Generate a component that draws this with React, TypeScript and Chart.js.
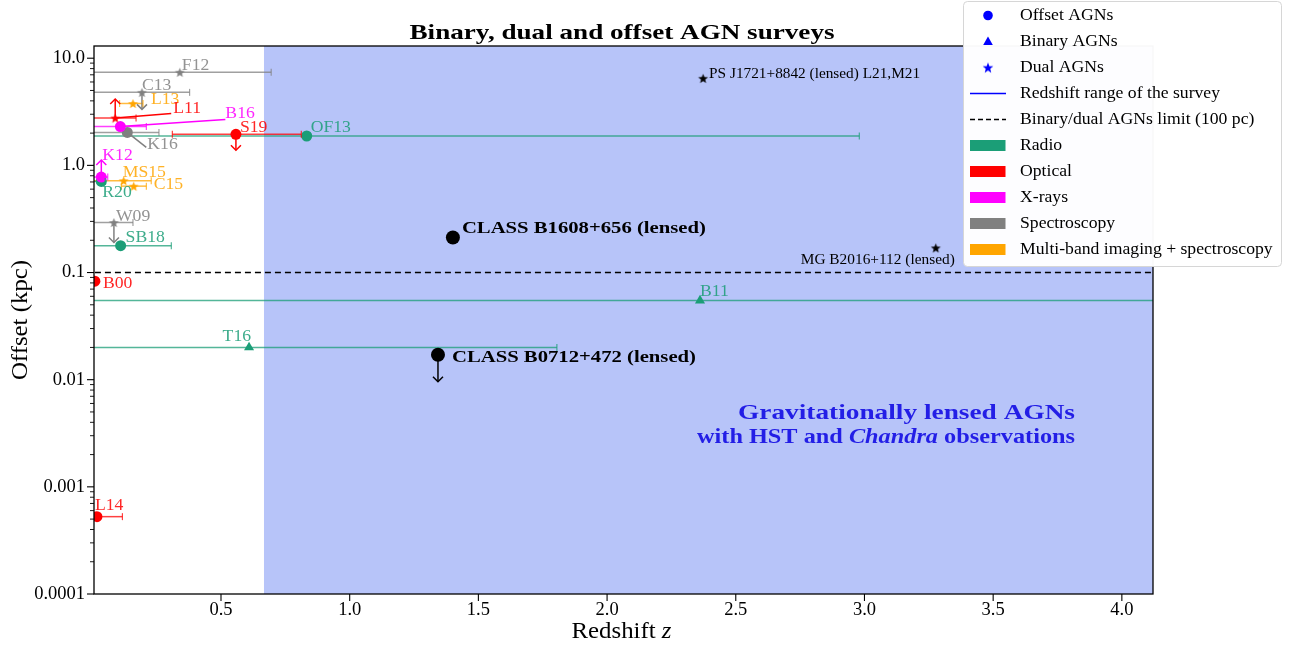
import React, { useEffect, useRef } from 'react';
import { Chart, registerables } from 'chart.js';

Chart.register(...registerables);

// ===================== DATA =====================
const surveyNames = ['F12', 'C13', 'L13', 'L11', 'B16', 'K16', 'S19', 'OF13', 'K12', 'R20', 'MS15', 'C15', 'W09', 'SB18', 'B00', 'B11', 'T16', 'L14'];
const surveyKind = ['dual', 'dual', 'dual', 'dual', 'offset', 'offset', 'offset', 'offset', 'offset', 'offset', 'dual', 'dual', 'dual', 'offset', 'offset', 'binary', 'binary', 'offset'];
const surveyBand = ['spec', 'spec', 'multi', 'optical', 'xray', 'spec', 'optical', 'radio', 'xray', 'radio', 'multi', 'multi', 'spec', 'radio', 'optical', 'radio', 'radio', 'optical'];
const surveyRedshift = [0.34, 0.193, 0.158, 0.089, 0.109, 0.136, 0.558, 0.833, 0.035, 0.035, 0.122, 0.161, 0.084, 0.11, 0.01, 2.361, 0.609, 0.018];
const surveyOffsetKpc = [7.4, 4.8, 3.78, 2.77, 2.3, 2.03, 1.95, 1.88, 0.778, 0.708, 0.72, 0.64, 0.293, 0.178, 0.083, 0.0547, 0.02, 0.000527];
const surveyZMin = [0, 0, 0.106, 0, 0, 0, 0.311, 0, 0, 0, 0, 0.113, 0, 0, null, 0, 0, 0];
const surveyZMax = [0.695, 0.378, 0.197, 0.17, 0.21, 0.259, 0.812, 2.98, 0.06, 0.05, 0.229, 0.21, 0.158, 0.307, null, 5, 1.805, 0.117];
const surveyLimit = ['', 'upper', '', 'lower', '', '', 'upper', '', 'lower', '', '', '', 'upper', '', '', '', '', ''];

const lensedNames = ['CLASS B1608+656 (lensed)', 'CLASS B0712+472 (lensed)', 'PS J1721+8842 (lensed) L21,M21', 'MG B2016+112 (lensed)'];
const lensedKind = ['offset', 'offset', 'dual', 'dual'];
const lensedRedshift = [1.401, 1.343, 2.373, 3.277];
const lensedOffsetKpc = [0.212, 0.0171, 6.5, 0.17];
const lensedLimit = ['', 'upper', '', ''];

const lensedRegionStart = 0.667;
const binaryDualLimitKpc = 0.1;

const xTickValues = [0.5, 1.0, 1.5, 2.0, 2.5, 3.0, 3.5, 4.0];
const xTickLabels = ['0.5', '1.0', '1.5', '2.0', '2.5', '3.0', '3.5', '4.0'];
const yTickValues = [10, 1, 0.1, 0.01, 0.001, 0.0001];
const yTickLabels = ['10.0', '1.0', '0.1', '0.01', '0.001', '0.0001'];

const legendLabels = ['Offset AGNs', 'Binary AGNs', 'Dual AGNs', 'Redshift range of the survey', 'Binary/dual AGNs limit (100 pc)', 'Radio', 'Optical', 'X-rays', 'Spectroscopy', 'Multi-band imaging + spectroscopy'];
const legendBands = ['radio', 'optical', 'xray', 'spec', 'multi'];

const titleText = 'Binary, dual and offset AGN surveys';
const annotationLine1 = 'Gravitationally lensed AGNs';
const annotationLine2 = [{ t: 'with HST and ' }, { t: 'Chandra', italic: true }, { t: ' observations' }];

// ===================== STYLE / LAYOUT =====================
const FONT = "'Liberation Serif', 'Times New Roman', Times, serif";
const SX = 1.07;
const X_MIN = 0.0066;
const X_MAX = 4.121;
const Y_MIN = 0.0001;
const Y_MAX = 13;
const REGION_COLOR = 'rgb(183,196,249)';
const ANNOT_COLOR = 'rgb(35,30,230)';
const bandColor: Record<string, string> = {
  radio: '#1b9e77',
  optical: '#ff0000',
  xray: '#ff00ff',
  spec: '#808080',
  multi: '#ffa500',
};

// label anchor offsets (px, from marker centre): dx, dy, align
const labelPlacement: Record<string, [number, number, string]> = {
  F12: [2, -7, 'left'],
  C13: [0, -7, 'left'],
  L13: [18, -4, 'left'],
  L11: [58, -9, 'left'],
  B16: [105, -13, 'left'],
  K16: [20, 12, 'left'],
  S19: [4, -7, 'left'],
  OF13: [4, -8, 'left'],
  K12: [1, -21, 'left'],
  R20: [1, 11, 'left'],
  MS15: [-1, -8, 'left'],
  C15: [20, -1, 'left'],
  W09: [2, -6, 'left'],
  SB18: [5, -8, 'left'],
  B00: [8, 2, 'left'],
  B11: [0, -9, 'left'],
  T16: [2, -11, 'right'],
  L14: [-2, -11, 'left'],
};
const leaderEnd: Record<string, [number, number]> = {
  L11: [56, -4.5],
  B16: [105, -7],
  K16: [19, 15],
};
const arrowLength: Record<string, number> = {
  C13: 17,
  L11: 19,
  S19: 16,
  K12: 17,
  W09: 20,
  'CLASS B0712+472 (lensed)': 27,
};
const lensedPlacement: [number, number, string, number, boolean, number][] = [
  [9, -9, 'left', 244, true, 17.5],
  [14, 3, 'left', 244, true, 17.5],
  [6, -4.5, 'left', 211, false, 14.5],
  [19, 12.5, 'right', 154, false, 14.5],
];

function rgba(hex: string, a: number) {
  const n = parseInt(hex.slice(1), 16);
  return `rgba(${n >> 16},${(n >> 8) & 255},${n & 255},${a})`;
}

function fontOf(size: number, bold?: boolean, italic?: boolean) {
  return `${italic ? 'italic ' : ''}${bold ? 'bold ' : ''}${size}px ${FONT}`;
}

function drawText(ctx: CanvasRenderingContext2D, content: any, x: number, y: number, o: any) {
  const segs = typeof content === 'string' ? [{ t: content }] : content;
  ctx.save();
  let W = 0;
  const ws: number[] = [];
  for (const s of segs) {
    ctx.font = fontOf(o.size, s.bold ?? o.bold, s.italic ?? o.italic);
    const w = ctx.measureText(s.t).width;
    ws.push(w);
    W += w;
  }
  const sx = o.width ? o.width / W : (o.sx ?? SX);
  ctx.translate(x, y);
  if (o.rotate) ctx.rotate(o.rotate);
  ctx.scale(sx, 1);
  let cx = o.align === 'center' ? -W / 2 : o.align === 'right' ? -W : 0;
  ctx.fillStyle = o.color || '#000';
  ctx.textBaseline = 'middle';
  ctx.textAlign = 'left';
  segs.forEach((s: any, i: number) => {
    ctx.font = fontOf(o.size, s.bold ?? o.bold, s.italic ?? o.italic);
    ctx.fillText(s.t, cx, 0);
    cx += ws[i];
  });
  ctx.restore();
}

function makeStar(color: string, outer: number) {
  const inner = outer * 0.42;
  const size = Math.ceil(outer * 2 + 2);
  const c = document.createElement('canvas');
  c.width = size;
  c.height = size;
  const g = c.getContext('2d')!;
  g.fillStyle = color;
  g.beginPath();
  for (let i = 0; i < 10; i++) {
    const r = i % 2 === 0 ? outer : inner;
    const ang = -Math.PI / 2 + (i * Math.PI) / 5;
    const px = size / 2 + r * Math.cos(ang);
    const py = size / 2 + 0.6 + r * Math.sin(ang);
    if (i === 0) g.moveTo(px, py);
    else g.lineTo(px, py);
  }
  g.closePath();
  g.fill();
  return c;
}

function drawArrow(ctx: CanvasRenderingContext2D, x: number, y: number, len: number, dir: number, color: string) {
  const ty = y + dir * len;
  ctx.strokeStyle = color;
  ctx.lineWidth = 1.5;
  ctx.beginPath();
  ctx.moveTo(x, y);
  ctx.lineTo(x, ty);
  ctx.stroke();
  ctx.beginPath();
  ctx.moveTo(x - 5, ty - dir * 5);
  ctx.lineTo(x, ty);
  ctx.lineTo(x + 5, ty - dir * 5);
  ctx.stroke();
}

function line(ctx: CanvasRenderingContext2D, x1: number, y1: number, x2: number, y2: number) {
  ctx.beginPath();
  ctx.moveTo(x1, y1);
  ctx.lineTo(x2, y2);
  ctx.stroke();
}

export default function App() {
  const ref = useRef<HTMLCanvasElement>(null);

  useEffect(() => {
    const canvas = ref.current;
    if (!canvas) return;

    const starCache: Record<string, HTMLCanvasElement> = {};
    const star = (color: string, r: number) => {
      const k = color + r;
      if (!starCache[k]) starCache[k] = makeStar(color, r);
      return starCache[k];
    };
    const styleFor = (kind: string, color: string) =>
      kind === 'offset' ? 'circle' : kind === 'binary' ? 'triangle' : star(color, 5.2);

    const clipLeft = { left: 0, top: false, right: false, bottom: false };
    const datasets: any[] = [];

    surveyNames.forEach((name, i) => {
      const col = bandColor[surveyBand[i]];
      datasets.push({
        label: name,
        data: [{ x: surveyRedshift[i], y: surveyOffsetKpc[i] }],
        pointStyle: styleFor(surveyKind[i], col),
        pointRadius: surveyKind[i] === 'binary' ? 5.8 : 5.5,
        backgroundColor: col,
        borderColor: col,
        borderWidth: 0,
        showLine: false,
        order: 1,
        clip: clipLeft,
      });
    });
    lensedNames.forEach((name, i) => {
      datasets.push({
        label: name,
        data: [{ x: lensedRedshift[i], y: lensedOffsetKpc[i] }],
        pointStyle: styleFor(lensedKind[i], '#000'),
        pointRadius: 7,
        backgroundColor: '#000',
        borderColor: '#000',
        borderWidth: 0,
        showLine: false,
        order: 1,
        clip: clipLeft,
      });
    });
    datasets.push({
      label: 'limit',
      data: [{ x: -1, y: binaryDualLimitKpc }, { x: 10, y: binaryDualLimitKpc }],
      showLine: true,
      borderColor: '#000',
      borderDash: [6, 4],
      borderWidth: 1.5,
      pointRadius: 0,
      order: 2,
    });
    surveyNames.forEach((name, i) => {
      if (surveyZMin[i] == null) return;
      datasets.push({
        label: name + ' range',
        data: [{ x: surveyZMin[i], y: surveyOffsetKpc[i] }, { x: surveyZMax[i], y: surveyOffsetKpc[i] }],
        showLine: true,
        borderColor: rgba(bandColor[surveyBand[i]], 0.75),
        borderWidth: 1.5,
        pointRadius: 0,
        order: 3,
      });
    });

    const overlay = {
      id: 'overlay',
      beforeDraw(chart: any) {
        const ctx = chart.ctx;
        ctx.save();
        ctx.fillStyle = '#fff';
        ctx.fillRect(0, 0, chart.width, chart.height);
        ctx.restore();
      },
      beforeDatasetsDraw(chart: any) {
        const { ctx, chartArea: a, scales } = chart;
        const x0 = Math.max(a.left, scales.x.getPixelForValue(lensedRegionStart));
        ctx.save();
        ctx.fillStyle = REGION_COLOR;
        ctx.fillRect(x0, a.top, a.right - x0, a.bottom - a.top);
        ctx.restore();
      },
      afterDatasetsDraw(chart: any) {
        const { ctx, chartArea: a, scales } = chart;
        const xs = scales.x;
        const ys = scales.y;
        ctx.save();
        ctx.beginPath();
        ctx.rect(a.left, a.top, a.right - a.left, a.bottom - a.top);
        ctx.clip();
        surveyNames.forEach((name, i) => {
          const col = bandColor[surveyBand[i]];
          const px = xs.getPixelForValue(surveyRedshift[i]);
          const py = ys.getPixelForValue(surveyOffsetKpc[i]);
          if (surveyZMin[i] != null) {
            ctx.strokeStyle = rgba(col, 0.75);
            ctx.lineWidth = 1.2;
            for (const z of [surveyZMin[i], surveyZMax[i]]) {
              const cx = xs.getPixelForValue(z);
              if (cx > a.left + 1 && cx < a.right - 1) line(ctx, cx, py - 3.5, cx, py + 3.5);
            }
          }
          const le = leaderEnd[name];
          if (le) {
            ctx.strokeStyle = col;
            ctx.lineWidth = 1.5;
            line(ctx, px, py, px + le[0], py + le[1]);
          }
          if (surveyLimit[i]) {
            drawArrow(ctx, px, py, arrowLength[name] || 17, surveyLimit[i] === 'upper' ? 1 : -1, col);
          }
        });
        lensedNames.forEach((name, i) => {
          if (lensedLimit[i]) {
            const px = xs.getPixelForValue(lensedRedshift[i]);
            const py = ys.getPixelForValue(lensedOffsetKpc[i]);
            drawArrow(ctx, px, py, arrowLength[name] || 20, lensedLimit[i] === 'upper' ? 1 : -1, '#000');
          }
        });
        ctx.restore();

        // survey labels
        surveyNames.forEach((name, i) => {
          const col = bandColor[surveyBand[i]];
          const px = xs.getPixelForValue(surveyRedshift[i]);
          const py = ys.getPixelForValue(surveyOffsetKpc[i]);
          const p = labelPlacement[name];
          drawText(ctx, name, px + p[0], py + p[1], { size: 16.5, color: rgba(col, 0.85), align: p[2] });
        });
        // lensed labels
        lensedNames.forEach((name, i) => {
          const px = xs.getPixelForValue(lensedRedshift[i]);
          const py = ys.getPixelForValue(lensedOffsetKpc[i]);
          const p = lensedPlacement[i];
          drawText(ctx, name, px + p[0], py + p[1], { size: p[5], bold: p[4], color: '#000', align: p[2], width: p[3] });
        });
        // annotation
        drawText(ctx, annotationLine1, 1075, 413, { size: 21.5, bold: true, color: ANNOT_COLOR, align: 'right', width: 337 });
        drawText(ctx, annotationLine2, 1075, 437, { size: 21.5, bold: true, color: ANNOT_COLOR, align: 'right', width: 378 });

        // frame
        ctx.save();
        ctx.strokeStyle = '#000';
        ctx.lineWidth = 1.3;
        ctx.strokeRect(a.left, a.top, a.right - a.left, a.bottom - a.top);
        ctx.lineWidth = 1.1;
        // x ticks
        xTickValues.forEach((v, i) => {
          const px = xs.getPixelForValue(v);
          line(ctx, px, a.bottom, px, a.bottom + 7);
          drawText(ctx, xTickLabels[i], px, a.bottom + 16, { size: 18.5, align: 'center', sx: 1.0 });
        });
        // y ticks
        yTickValues.forEach((v, i) => {
          const py = ys.getPixelForValue(v);
          line(ctx, a.left - 7, py, a.left, py);
          drawText(ctx, yTickLabels[i], a.left - 9, py, { size: 18.5, align: 'right', sx: 1.0 });
        });
        ctx.lineWidth = 0.9;
        for (let e = -4; e <= 1; e++) {
          for (let m = 2; m <= 9; m++) {
            const v = m * Math.pow(10, e);
            if (v > Y_MAX) continue;
            const py = ys.getPixelForValue(v);
            line(ctx, a.left - 4, py, a.left, py);
          }
        }
        ctx.restore();

        // axis titles & title
        drawText(ctx, [{ t: 'Redshift ' }, { t: 'z', italic: true }], (a.left + a.right) / 2 - 2, 632, { size: 23, align: 'center', sx: 1.08 });
        drawText(ctx, 'Offset (kpc)', 21, (a.top + a.bottom) / 2, { size: 23, align: 'center', sx: 1.08, rotate: -Math.PI / 2 });
        drawText(ctx, titleText, 622, 34, { size: 21, bold: true, align: 'center', width: 425 });
      },
      afterDraw(chart: any) {
        const ctx = chart.ctx;
        const bx = 963.5, by = 1.5, bw = 318, bh = 265, r = 4;
        ctx.save();
        ctx.beginPath();
        ctx.moveTo(bx + r, by);
        ctx.lineTo(bx + bw - r, by);
        ctx.quadraticCurveTo(bx + bw, by, bx + bw, by + r);
        ctx.lineTo(bx + bw, by + bh - r);
        ctx.quadraticCurveTo(bx + bw, by + bh, bx + bw - r, by + bh);
        ctx.lineTo(bx + r, by + bh);
        ctx.quadraticCurveTo(bx, by + bh, bx, by + bh - r);
        ctx.lineTo(bx, by + r);
        ctx.quadraticCurveTo(bx, by, bx + r, by);
        ctx.closePath();
        ctx.fillStyle = 'rgba(255,255,255,0.97)';
        ctx.fill();
        ctx.strokeStyle = '#d6d6d6';
        ctx.lineWidth = 1;
        ctx.stroke();

        const hx = 988;
        legendLabels.forEach((lab, i) => {
          const cy = 15.5 + 26 * i;
          if (i === 0) {
            ctx.fillStyle = '#0000ff';
            ctx.beginPath();
            ctx.arc(hx, cy, 4.8, 0, Math.PI * 2);
            ctx.fill();
          } else if (i === 1) {
            ctx.fillStyle = '#0000ff';
            ctx.beginPath();
            ctx.moveTo(hx, cy - 5);
            ctx.lineTo(hx + 4.8, cy + 3.5);
            ctx.lineTo(hx - 4.8, cy + 3.5);
            ctx.closePath();
            ctx.fill();
          } else if (i === 2) {
            const s = star('#0000ff', 5.6);
            ctx.drawImage(s, hx - s.width / 2, cy - s.height / 2);
          } else if (i === 3) {
            ctx.strokeStyle = '#0000ff';
            ctx.lineWidth = 1.6;
            line(ctx, 970, cy, 1006, cy);
          } else if (i === 4) {
            ctx.strokeStyle = '#000';
            ctx.lineWidth = 1.6;
            ctx.setLineDash([5, 3]);
            line(ctx, 970, cy, 1006, cy);
            ctx.setLineDash([]);
          } else {
            ctx.fillStyle = bandColor[legendBands[i - 5]];
            ctx.fillRect(970, cy - 5.5, 35.5, 11);
          }
          drawText(ctx, lab, 1020, cy, { size: 16.5, color: '#000', sx: 1.07 });
        });
        ctx.restore();
      },
    };

    const chart = new Chart(canvas, {
      type: 'scatter',
      data: { datasets },
      options: {
        responsive: false,
        animation: false,
        devicePixelRatio: 1,
        events: [],
        layout: { padding: { left: 0, right: 142, top: 46, bottom: 0 } },
        plugins: { legend: { display: false }, tooltip: { enabled: false }, title: { display: false } },
        scales: {
          x: {
            type: 'linear',
            min: X_MIN,
            max: X_MAX,
            grid: { display: false },
            border: { display: false },
            ticks: { display: false },
            afterFit: (s: any) => {
              s.height = 51;
            },
          },
          y: {
            type: 'logarithmic',
            min: Y_MIN,
            max: Y_MAX,
            grid: { display: false },
            border: { display: false },
            ticks: { display: false },
            afterFit: (s: any) => {
              s.width = 94;
            },
          },
        },
      } as any,
      plugins: [overlay as any],
    });

    return () => chart.destroy();
  }, []);

  return (
    <div style={{ position: 'fixed', left: 0, top: 0, width: 1295, height: 645, background: '#fff' }}>
      <canvas ref={ref} width={1295} height={645} style={{ display: 'block', width: 1295, height: 645 }} />
    </div>
  );
}
